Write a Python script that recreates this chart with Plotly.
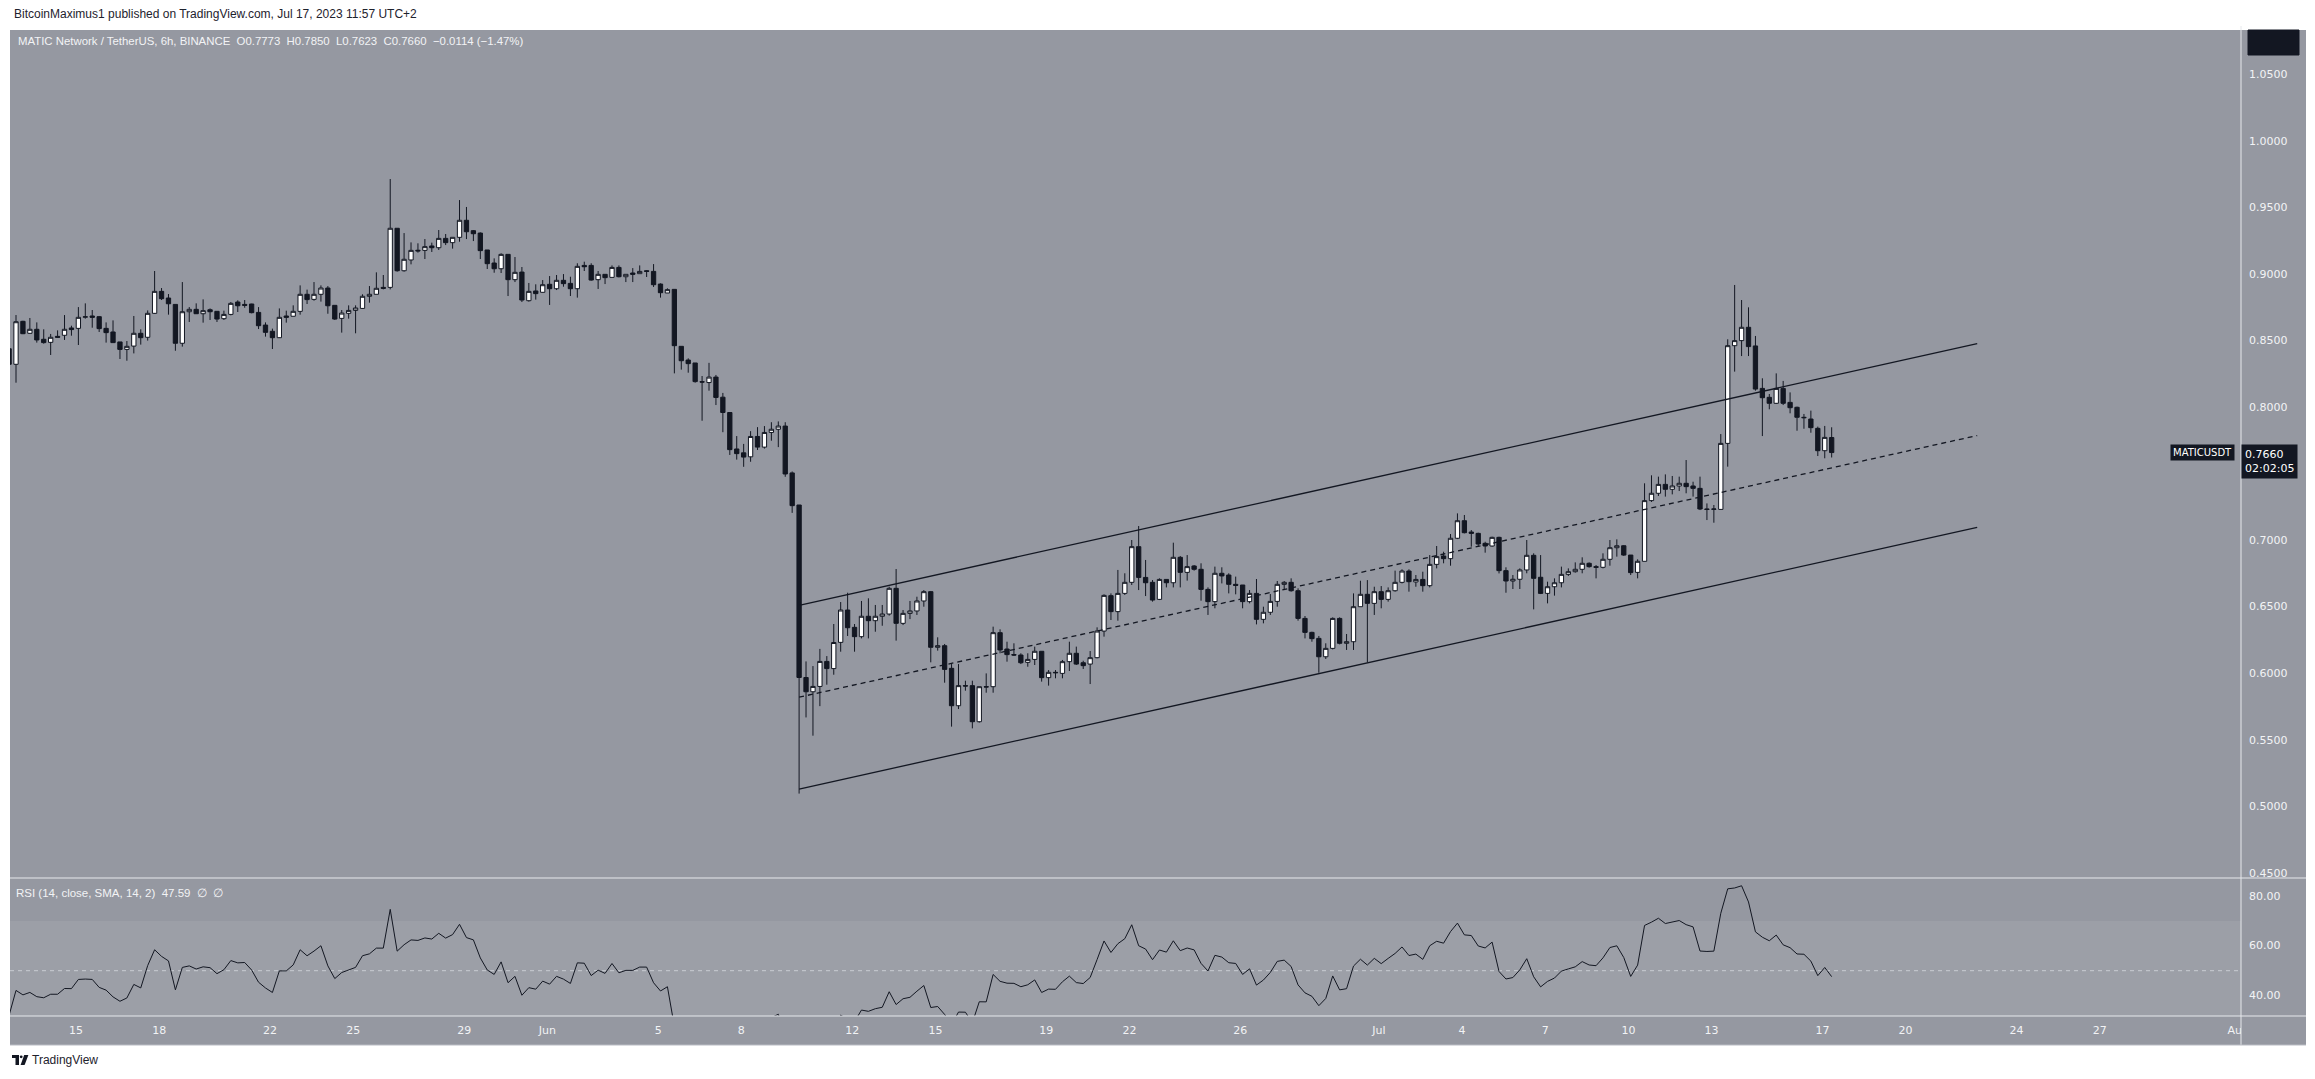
import plotly.graph_objects as go
import pandas as pd

# ---------------- data ----------------
first_candle = "2023-05-12 14:00"   # 6h candles, UTC+2
opens = [0.8440, 0.8323, 0.8646, 0.8556, 0.8586, 0.8511, 0.8488, 0.8533, 0.8541, 0.8596,
         0.8593, 0.8677, 0.8686, 0.8681, 0.8593, 0.8566, 0.8491, 0.8435, 0.8460, 0.8556,
         0.8526, 0.8706, 0.8871, 0.8821, 0.8773, 0.8481, 0.8718, 0.8736, 0.8703, 0.8733,
         0.8721, 0.8666, 0.8698, 0.8791, 0.8773, 0.8776, 0.8713, 0.8618, 0.8571, 0.8523,
         0.8686, 0.8684, 0.8721, 0.8849, 0.8811, 0.8849, 0.8896, 0.8766, 0.8668, 0.8706,
         0.8728, 0.8743, 0.8834, 0.8849, 0.8901, 0.8901, 0.9345, 0.9026, 0.9107, 0.9180,
         0.9179, 0.9212, 0.9199, 0.9269, 0.9237, 0.9277, 0.9405, 0.9327, 0.9309, 0.9182,
         0.9084, 0.9041, 0.9149, 0.8959, 0.9016, 0.8801, 0.8874, 0.8864, 0.8924, 0.8891,
         0.8954, 0.8931, 0.8891, 0.9066, 0.9066, 0.8959, 0.8999, 0.8976, 0.9051, 0.8981,
         0.9009, 0.9004, 0.9026, 0.9021, 0.8926, 0.8859, 0.8886, 0.8458, 0.8355, 0.8333,
         0.8192, 0.8186, 0.8227, 0.8076, 0.7961, 0.7687, 0.7658, 0.7628, 0.7781, 0.7701,
         0.7811, 0.7835, 0.7859, 0.7507, 0.7266, 0.5970, 0.5863, 0.5903, 0.6091, 0.6037,
         0.6234, 0.6477, 0.6347, 0.6277, 0.6430, 0.6397, 0.6430, 0.6447, 0.6640, 0.6377,
         0.6452, 0.6470, 0.6545, 0.6615, 0.6197, 0.6209, 0.6039, 0.5758, 0.5909, 0.5909,
         0.5638, 0.5901, 0.5901, 0.6307, 0.6184, 0.6142, 0.6139, 0.6084, 0.6106, 0.6167,
         0.5969, 0.6009, 0.6001, 0.6089, 0.6152, 0.6081, 0.6071, 0.6119, 0.6319, 0.6585,
         0.6465, 0.6602, 0.6685, 0.6953, 0.6722, 0.6685, 0.6557, 0.6707, 0.6682, 0.6873,
         0.6760, 0.6808, 0.6783, 0.6632, 0.6540, 0.6753, 0.6740, 0.6670, 0.6665, 0.6540,
         0.6602, 0.6407, 0.6460, 0.6542, 0.6670, 0.6685, 0.6622, 0.6414, 0.6309, 0.6264,
         0.6126, 0.6189, 0.6414, 0.6227, 0.6239, 0.6502, 0.6595, 0.6527, 0.6615, 0.6557,
         0.6622, 0.6685, 0.6770, 0.6688, 0.6707, 0.6660, 0.6820, 0.6883, 0.6863, 0.7016,
         0.7148, 0.7063, 0.7053, 0.6978, 0.6958, 0.7023, 0.6773, 0.6695, 0.6708, 0.6778,
         0.6888, 0.6723, 0.6602, 0.6652, 0.6682, 0.6745, 0.6765, 0.6783, 0.6828, 0.6803,
         0.6798, 0.6858, 0.6945, 0.6960, 0.6890, 0.6760, 0.6843, 0.7299, 0.7354, 0.7421,
         0.7384, 0.7409, 0.7429, 0.7409, 0.7391, 0.7236, 0.7233, 0.7233, 0.7729, 0.8463,
         0.8501, 0.8601, 0.8461, 0.8142, 0.8075, 0.8030, 0.8142, 0.8037, 0.8000, 0.7925,
         0.7912, 0.7842, 0.7674, 0.7773]
highs = [0.8460, 0.8693, 0.8650, 0.8671, 0.8638, 0.8586, 0.8551, 0.8578, 0.8693, 0.8613,
         0.8753, 0.8781, 0.8731, 0.8686, 0.8638, 0.8653, 0.8491, 0.8498, 0.8686, 0.8586,
         0.8728, 0.9024, 0.8896, 0.8851, 0.8773, 0.8941, 0.8753, 0.8781, 0.8811, 0.8743,
         0.8721, 0.8726, 0.8791, 0.8804, 0.8806, 0.8778, 0.8753, 0.8638, 0.8591, 0.8743,
         0.8726, 0.8766, 0.8916, 0.8884, 0.8941, 0.8916, 0.8911, 0.8766, 0.8731, 0.8766,
         0.8766, 0.8849, 0.8911, 0.9014, 0.8994, 0.9715, 0.9345, 0.9309, 0.9239, 0.9232,
         0.9264, 0.9237, 0.9332, 0.9302, 0.9277, 0.9557, 0.9505, 0.9332, 0.9314, 0.9182,
         0.9119, 0.9157, 0.9149, 0.9129, 0.9054, 0.8934, 0.8924, 0.8956, 0.8986, 0.8994,
         0.9001, 0.8981, 0.9082, 0.9094, 0.9082, 0.9024, 0.8999, 0.9066, 0.9066, 0.8999,
         0.9046, 0.9066, 0.9031, 0.9076, 0.8931, 0.8894, 0.8886, 0.8458, 0.8368, 0.8333,
         0.8235, 0.8334, 0.8243, 0.8108, 0.7961, 0.7784, 0.7725, 0.7821, 0.7851, 0.7859,
         0.7888, 0.7894, 0.7888, 0.7518, 0.7266, 0.6091, 0.6056, 0.6185, 0.6131, 0.6372,
         0.6537, 0.6607, 0.6372, 0.6545, 0.6565, 0.6515, 0.6515, 0.6652, 0.6785, 0.6477,
         0.6545, 0.6577, 0.6627, 0.6620, 0.6272, 0.6222, 0.6071, 0.6071, 0.5946, 0.5946,
         0.5901, 0.6001, 0.6352, 0.6332, 0.6239, 0.6227, 0.6152, 0.6152, 0.6202, 0.6167,
         0.6026, 0.6026, 0.6102, 0.6239, 0.6202, 0.6096, 0.6169, 0.6347, 0.6595, 0.6602,
         0.6778, 0.6753, 0.7003, 0.7108, 0.6853, 0.6702, 0.6715, 0.6707, 0.6983, 0.6883,
         0.6890, 0.6815, 0.6828, 0.6647, 0.6803, 0.6798, 0.6753, 0.6728, 0.6665, 0.6627,
         0.6710, 0.6502, 0.6597, 0.6695, 0.6695, 0.6715, 0.6640, 0.6432, 0.6314, 0.6282,
         0.6227, 0.6422, 0.6422, 0.6297, 0.6602, 0.6697, 0.6702, 0.6652, 0.6657, 0.6647,
         0.6773, 0.6783, 0.6783, 0.6740, 0.6765, 0.6890, 0.6958, 0.6915, 0.7048, 0.7203,
         0.7191, 0.7078, 0.7058, 0.6990, 0.7028, 0.7028, 0.6798, 0.6740, 0.6790, 0.7003,
         0.6903, 0.6890, 0.6690, 0.6715, 0.6803, 0.6790, 0.6835, 0.6873, 0.6835, 0.6815,
         0.6903, 0.7003, 0.7008, 0.6965, 0.6890, 0.6858, 0.7429, 0.7489, 0.7479, 0.7496,
         0.7484, 0.7479, 0.7604, 0.7441, 0.7479, 0.7278, 0.7266, 0.7799, 0.8511, 0.8919,
         0.8806, 0.8751, 0.8536, 0.8218, 0.8100, 0.8255, 0.8198, 0.8112, 0.8005, 0.7950,
         0.7975, 0.7855, 0.7860, 0.7850]
lows = [0.8330, 0.8185, 0.8550, 0.8553, 0.8486, 0.8478, 0.8393, 0.8524, 0.8506, 0.8538,
        0.8468, 0.8666, 0.8598, 0.8566, 0.8486, 0.8484, 0.8363, 0.8350, 0.8405, 0.8471,
        0.8501, 0.8703, 0.8806, 0.8696, 0.8425, 0.8456, 0.8641, 0.8701, 0.8636, 0.8656,
        0.8641, 0.8656, 0.8691, 0.8716, 0.8748, 0.8706, 0.8588, 0.8531, 0.8438, 0.8521,
        0.8636, 0.8683, 0.8696, 0.8776, 0.8801, 0.8794, 0.8703, 0.8656, 0.8561, 0.8666,
        0.8556, 0.8741, 0.8786, 0.8849, 0.8886, 0.8886, 0.9019, 0.9019, 0.9074, 0.9162,
        0.9114, 0.9167, 0.9182, 0.9219, 0.9192, 0.9244, 0.9264, 0.9249, 0.9114, 0.9039,
        0.9011, 0.9009, 0.8836, 0.8941, 0.8791, 0.8794, 0.8809, 0.8861, 0.8769, 0.8881,
        0.8906, 0.8836, 0.8824, 0.9024, 0.8951, 0.8889, 0.8926, 0.8976, 0.8976, 0.8941,
        0.8941, 0.9004, 0.8979, 0.8904, 0.8824, 0.8859, 0.8255, 0.8283, 0.8260, 0.8185,
        0.7899, 0.8125, 0.8017, 0.7813, 0.7642, 0.7607, 0.7553, 0.7591, 0.7679, 0.7690,
        0.7749, 0.7701, 0.7478, 0.7207, 0.5098, 0.5670, 0.5533, 0.5755, 0.5916, 0.5991,
        0.6164, 0.6282, 0.6164, 0.6264, 0.6264, 0.6314, 0.6359, 0.6435, 0.6247, 0.6364,
        0.6409, 0.6440, 0.6502, 0.6084, 0.6172, 0.5931, 0.5601, 0.5733, 0.5871, 0.5588,
        0.5631, 0.5856, 0.5856, 0.6152, 0.6089, 0.6132, 0.6071, 0.6051, 0.6064, 0.5939,
        0.5909, 0.5964, 0.5964, 0.6019, 0.6064, 0.6034, 0.5921, 0.6114, 0.6277, 0.6402,
        0.6397, 0.6590, 0.6665, 0.6627, 0.6582, 0.6540, 0.6552, 0.6647, 0.6647, 0.6647,
        0.6698, 0.6773, 0.6547, 0.6440, 0.6490, 0.6677, 0.6602, 0.6595, 0.6490, 0.6527,
        0.6369, 0.6377, 0.6440, 0.6502, 0.6627, 0.6615, 0.6397, 0.6264, 0.6239, 0.6006,
        0.6109, 0.6181, 0.6219, 0.6177, 0.6177, 0.6502, 0.6084, 0.6440, 0.6490, 0.6540,
        0.6615, 0.6677, 0.6615, 0.6652, 0.6615, 0.6647, 0.6790, 0.6828, 0.6810, 0.7010,
        0.7053, 0.6953, 0.6953, 0.6908, 0.6953, 0.6752, 0.6607, 0.6635, 0.6635, 0.6753,
        0.6482, 0.6597, 0.6527, 0.6585, 0.6647, 0.6733, 0.6758, 0.6753, 0.6795, 0.6715,
        0.6790, 0.6810, 0.6878, 0.6883, 0.6740, 0.6715, 0.6843, 0.7289, 0.7334, 0.7329,
        0.7346, 0.7371, 0.7354, 0.7329, 0.7228, 0.7153, 0.7133, 0.7233, 0.7554, 0.8268,
        0.8385, 0.8385, 0.8125, 0.7784, 0.7985, 0.8025, 0.8017, 0.7955, 0.7824, 0.7839,
        0.7809, 0.7634, 0.7617, 0.7623]
closes = [0.8323, 0.8643, 0.8553, 0.8586, 0.8506, 0.8486, 0.8526, 0.8526, 0.8586, 0.8584,
          0.8676, 0.8680, 0.8676, 0.8591, 0.8561, 0.8486, 0.8435, 0.8458, 0.8556, 0.8523,
          0.8706, 0.8871, 0.8816, 0.8778, 0.8481, 0.8718, 0.8736, 0.8703, 0.8726, 0.8718,
          0.8663, 0.8698, 0.8781, 0.8763, 0.8766, 0.8711, 0.8613, 0.8563, 0.8523, 0.8676,
          0.8676, 0.8721, 0.8849, 0.8809, 0.8849, 0.8896, 0.8763, 0.8663, 0.8708, 0.8728,
          0.8746, 0.8834, 0.8849, 0.8894, 0.8894, 0.9345, 0.9026, 0.9112, 0.9179, 0.9175,
          0.9207, 0.9199, 0.9269, 0.9237, 0.9277, 0.9405, 0.9319, 0.9304, 0.9177, 0.9079,
          0.9041, 0.9149, 0.8959, 0.9014, 0.8806, 0.8871, 0.8854, 0.8921, 0.8891, 0.8954,
          0.8929, 0.8891, 0.9059, 0.9056, 0.8956, 0.8999, 0.8974, 0.9051, 0.8981, 0.8999,
          0.8999, 0.9021, 0.9021, 0.8921, 0.8861, 0.8884, 0.8463, 0.8350, 0.8328, 0.8193,
          0.8190, 0.8227, 0.8074, 0.7961, 0.7682, 0.7652, 0.7626, 0.7781, 0.7701, 0.7811,
          0.7835, 0.7859, 0.7499, 0.7261, 0.5970, 0.5863, 0.5903, 0.6091, 0.6037, 0.6233,
          0.6477, 0.6344, 0.6277, 0.6430, 0.6397, 0.6430, 0.6447, 0.6640, 0.6377, 0.6452,
          0.6470, 0.6545, 0.6615, 0.6197, 0.6209, 0.6031, 0.5758, 0.5909, 0.5906, 0.5638,
          0.5901, 0.5899, 0.6307, 0.6177, 0.6142, 0.6139, 0.6081, 0.6106, 0.6167, 0.5969,
          0.6009, 0.6006, 0.6089, 0.6152, 0.6071, 0.6059, 0.6119, 0.6319, 0.6587, 0.6465,
          0.6602, 0.6685, 0.6953, 0.6722, 0.6682, 0.6552, 0.6707, 0.6682, 0.6873, 0.6760,
          0.6803, 0.6783, 0.6632, 0.6540, 0.6753, 0.6733, 0.6670, 0.6662, 0.6540, 0.6602,
          0.6407, 0.6460, 0.6542, 0.6670, 0.6685, 0.6622, 0.6414, 0.6309, 0.6262, 0.6126,
          0.6189, 0.6414, 0.6227, 0.6239, 0.6502, 0.6595, 0.6527, 0.6615, 0.6557, 0.6622,
          0.6685, 0.6770, 0.6690, 0.6707, 0.6660, 0.6820, 0.6878, 0.6863, 0.7016, 0.7148,
          0.7058, 0.7053, 0.6973, 0.6958, 0.7023, 0.6773, 0.6695, 0.6708, 0.6778, 0.6888,
          0.6715, 0.6602, 0.6652, 0.6682, 0.6745, 0.6765, 0.6783, 0.6828, 0.6803, 0.6798,
          0.6858, 0.6945, 0.6960, 0.6890, 0.6758, 0.6843, 0.7299, 0.7354, 0.7421, 0.7384,
          0.7409, 0.7429, 0.7404, 0.7391, 0.7236, 0.7233, 0.7236, 0.7729, 0.8463, 0.8501,
          0.8601, 0.8456, 0.8137, 0.8072, 0.8030, 0.8142, 0.8030, 0.7997, 0.7925, 0.7922,
          0.7847, 0.7674, 0.7774, 0.7660]

# ascending channel drawn on the chart (two anchor points each)
channel_dates = ["2023-06-10 02:00", "2023-07-22 14:00"]
channel_upper = [0.6512, 0.8478]
channel_mid = [0.5822, 0.7788]
channel_lower = [0.5132, 0.7098]

price_ticks = [0.45, 0.50, 0.55, 0.60, 0.65, 0.70, 0.75, 0.80, 0.85, 0.90, 0.95, 1.00, 1.05]
rsi_ticks = [40, 60, 80]
x_tick_dates = ["2023-05-15", "2023-05-18", "2023-05-22", "2023-05-25", "2023-05-29",
                "2023-06-01", "2023-06-05", "2023-06-08", "2023-06-12", "2023-06-15",
                "2023-06-19", "2023-06-22", "2023-06-26", "2023-07-01", "2023-07-04",
                "2023-07-07", "2023-07-10", "2023-07-13", "2023-07-17", "2023-07-20",
                "2023-07-24", "2023-07-27", "2023-08-01"]
x_tick_text = ["15", "18", "22", "25", "29", "Jun", "5", "8", "12", "15", "19", "22", "26",
               "Jul", "4", "7", "10", "13", "17", "20", "24", "27", "Aug"]

last_price = 0.7660
countdown = "02:02:05"
rsi_len = 14
rsi_seed_gain, rsi_seed_loss = 0.00454, 0.00965   # state before the first visible bar

# ---------------- derived ----------------
times = pd.date_range(first_candle, periods=len(closes), freq="6h")

rsi = []
g, l = rsi_seed_gain, rsi_seed_loss
prev = None
for c in closes:
    if prev is not None:
        ch = c - prev
        g = (g * (rsi_len - 1) + max(ch, 0)) / rsi_len
        l = (l * (rsi_len - 1) + max(-ch, 0)) / rsi_len
    rsi.append(100 - 100 / (1 + g / l) if l > 0 else 100)
    prev = c

# ---------------- style / geometry (page pixels) ----------------
OFF = 8                                   # default body margin of the html page
W, H = 2315 - 2 * OFF, 1079 - 2 * OFF - 3  # figure size
PL, PR, PT, PB = 10, 2241, 30, 1016       # plot area in page pixels
SPLIT = 878                               # main / RSI separator
BG = "#9598a1"
DARK = "#131722"
BAND = "#9c9fa7"
TXT = "#f2f3f5"
AXFONT = "DejaVu Sans"
HDFONT = "Liberation Sans"

def px(x):
    return (x - PL) / (PR - PL)

def py(y):
    return (PB - y) / (PB - PT)

price_range = [0.44638, 1.08346]
rsi_range = [31.73, 87.38]
x_range = ["2023-05-12 14:48", "2023-08-01 02:24"]

fig = go.Figure()

fig.add_trace(go.Candlestick(
    x=times, open=opens, high=highs, low=lows, close=closes,
    increasing=dict(fillcolor="#ffffff", line=dict(color=DARK, width=1)),
    decreasing=dict(fillcolor=DARK, line=dict(color=DARK, width=1)),
    whiskerwidth=0, xaxis="x", yaxis="y", hoverinfo="skip", showlegend=False))

for ys, dash in [(channel_upper, "solid"), (channel_lower, "solid"), (channel_mid, "5px,4px")]:
    fig.add_trace(go.Scatter(x=channel_dates, y=ys, mode="lines",
                             line=dict(color=DARK, width=1.3, dash=dash),
                             xaxis="x", yaxis="y", hoverinfo="skip", showlegend=False))

fig.add_trace(go.Scatter(x=times, y=rsi, mode="lines", line=dict(color=DARK, width=1),
                         xaxis="x", yaxis="y2", hoverinfo="skip", showlegend=False))

split_frac = py(SPLIT)
RIGHT = 2306

shapes = [
    dict(type="rect", xref="paper", yref="paper", x0=px(PL), x1=px(RIGHT), y0=py(1045), y1=py(PT),
         fillcolor=BG, line=dict(width=0), layer="below"),
    dict(type="rect", xref="paper", yref="y2", x0=0, x1=1, y0=rsi_range[0], y1=70,
         fillcolor=BAND, line=dict(width=0), layer="below"),
    dict(type="line", xref="paper", yref="y2", x0=0, x1=1, y0=50, y1=50,
         line=dict(color="#c9ccd3", width=1, dash="4px,4px"), layer="below"),
    dict(type="rect", xref="paper", yref="paper", x0=px(PR), x1=px(RIGHT), y0=py(1045), y1=py(PT),
         fillcolor=BG, line=dict(width=0), layer="above"),
    dict(type="line", xref="paper", yref="paper", x0=px(PR), x1=px(PR), y0=py(1045), y1=py(26),
         line=dict(color="#e6e8ec", width=1), layer="above"),
    dict(type="line", xref="paper", yref="paper", x0=px(PL), x1=px(RIGHT), y0=py(SPLIT), y1=py(SPLIT),
         line=dict(color="#e6e8ec", width=1), layer="above"),
    dict(type="line", xref="paper", yref="paper", x0=px(PL), x1=px(RIGHT), y0=py(PB), y1=py(PB),
         line=dict(color="#e6e8ec", width=1), layer="above"),
    dict(type="line", xref="paper", yref="paper", x0=px(PL), x1=px(RIGHT), y0=py(1045), y1=py(1045),
         line=dict(color="#b9bcc3", width=1), layer="above"),
    dict(type="rect", xref="paper", yref="paper", x0=px(2248), x1=px(2299), y0=py(55), y1=py(30),
         fillcolor=DARK, line=dict(color=DARK, width=1), layer="above"),
    dict(type="path", xref="paper", yref="paper",
         path="M {0},{1} L {2},{1} L {2},{3} L {4},{3} L {4},{5} L {0},{5} Z".format(
             px(12), py(1055), px(19), py(1065), px(15.5), py(1058)),
         fillcolor=DARK, line=dict(width=0), layer="above"),
    dict(type="circle", xref="paper", yref="paper", x0=px(19.8), x1=px(22.6), y0=py(1058.2), y1=py(1055.4),
         fillcolor=DARK, line=dict(width=0), layer="above"),
    dict(type="path", xref="paper", yref="paper",
         path="M {0},{1} L {2},{1} L {3},{4} L {5},{4} Z".format(
             px(24.2), py(1055), px(28.4), px(24.6), py(1065), px(20.6)),
         fillcolor=DARK, line=dict(width=0), layer="above"),
]

ann = []
for v in price_ticks:
    ann.append(dict(x=1, xref="paper", xanchor="left", xshift=6, y=v, yref="y", yanchor="middle",
                    text=f"{v:.4f}", showarrow=False, font=dict(family=AXFONT, size=11, color=TXT)))
for v in rsi_ticks:
    ann.append(dict(x=1, xref="paper", xanchor="left", xshift=6, y=v, yref="y2", yanchor="middle",
                    text=f"{v:.2f}", showarrow=False, font=dict(family=AXFONT, size=11, color=TXT)))
ann.append(dict(x=1, xref="paper", xanchor="right", xshift=-6, y=last_price, yref="y", yanchor="middle",
                text="MATICUSDT", showarrow=False, bgcolor=DARK, borderpad=2,
                font=dict(family=AXFONT, size=10, color="#ffffff")))
ann.append(dict(x=1, xref="paper", xanchor="left", xshift=0, y=last_price, yref="y", yanchor="top",
                yshift=9, text=f"{last_price:.4f}<br>{countdown}", align="left", showarrow=False,
                bgcolor=DARK, borderpad=3, font=dict(family=AXFONT, size=11, color="#ffffff")))
ann.append(dict(x=px(12), xref="paper", xanchor="left", y=py(14), yref="paper", yanchor="middle",
                text="BitcoinMaximus1 published on TradingView.com, Jul 17, 2023 11:57 UTC+2",
                showarrow=False, font=dict(family=HDFONT, size=12, color="#1e222d")))
ann.append(dict(x=px(16), xref="paper", xanchor="left", y=py(41), yref="paper", yanchor="middle",
                text="MATIC Network / TetherUS, 6h, BINANCE  O0.7773  H0.7850  L0.7623  C0.7660  −0.0114 (−1.47%)",
                showarrow=False, font=dict(family=HDFONT, size=11.4, color=TXT)))
ann.append(dict(x=px(14), xref="paper", xanchor="left", y=py(893), yref="paper", yanchor="middle",
                text="RSI (14, close, SMA, 14, 2)  47.59  ∅  ∅",
                showarrow=False, font=dict(family=HDFONT, size=11.5, color=TXT)))
ann.append(dict(x=px(30), xref="paper", xanchor="left", y=py(1060), yref="paper", yanchor="middle",
                text="TradingView", showarrow=False, font=dict(family=HDFONT, size=12, color="#1e222d")))

fig.update_layout(
    width=W, height=H,
    margin=dict(l=PL - OFF, r=(OFF + W) - PR, t=PT - OFF, b=(OFF + H) - PB, pad=0),
    paper_bgcolor="#ffffff", plot_bgcolor=BG,
    showlegend=False, dragmode=False, hovermode=False,
    boxgap=0.38, boxgroupgap=0,
    xaxis=dict(type="date", range=x_range, anchor="y2", rangeslider=dict(visible=False),
               showgrid=False, zeroline=False, showline=False, ticks="",
               tickmode="array", tickvals=x_tick_dates, ticktext=x_tick_text,
               tickfont=dict(family=AXFONT, size=11, color=TXT), ticklabelstandoff=6,
               fixedrange=True),
    yaxis=dict(domain=[split_frac, 1], range=price_range, showgrid=False, zeroline=False,
               showticklabels=False, ticks="", fixedrange=True),
    yaxis2=dict(domain=[0, split_frac], range=rsi_range, showgrid=False, zeroline=False,
                showticklabels=False, ticks="", fixedrange=True),
    shapes=shapes, annotations=ann,
)

fig.write_html("out.html")
